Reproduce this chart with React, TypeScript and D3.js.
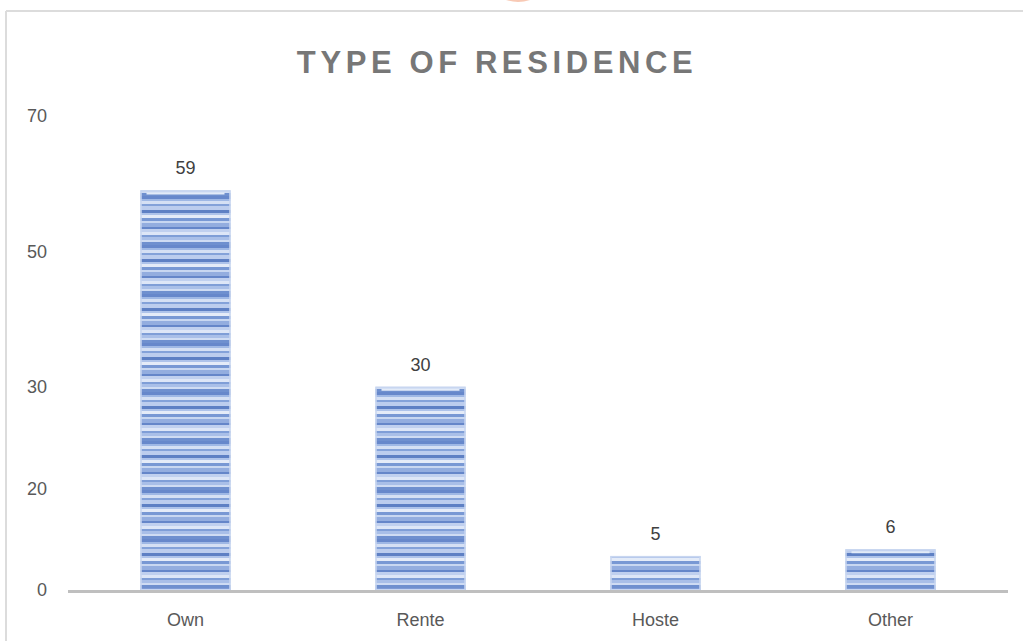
import React from "react";
import * as d3 from "d3";

const title = "TYPE OF RESIDENCE";
const categories = ["Own", "Rente", "Hoste", "Other"];
const values = [59, 30, 5, 6];
const tickValues = [0, 15, 30, 50, 70];
const tickLabels = ["0", "20", "30", "50", "70"];
const stripeColors = [
  "#6788cb", "#9fb8e5", "#d5e0f4", "#84a2d9", "#bccdee", "#5e80c4", "#aec3ea",
  "#e4ebf8", "#7898d4", "#c8d7f1", "#93addf", "#6586c9", "#c0d0ef", "#dde6f7",
  "#7f9ed7", "#a9bfe8", "#cfdcf3", "#6f90cf",
];
const stripeHeights = [3, 2, 3, 2, 4, 3, 2, 3, 3, 2, 4, 2, 3, 3, 2, 3, 2, 3];

const W = 1023;
const H = 641;

export default function App() {
  const x = d3.scaleBand<string>().domain(categories).range([68, 1008]).paddingInner(0.617).paddingOuter(0.3085);
  const y = d3.scaleLinear().domain([0, 70]).range([590, 116]);
  const font = "'Liberation Sans', Arial, sans-serif";
  const offsets = stripeHeights.reduce<number[]>((acc, h, i) => { acc.push(i === 0 ? 0 : acc[i - 1] + stripeHeights[i - 1]); return acc; }, []);
  const patH = d3.sum(stripeHeights);
  return (
    <svg width={W} height={H} style={{ position: "absolute", left: 0, top: 0, background: "#fff" }}>
      <defs>
        <pattern id="stripes" patternUnits="userSpaceOnUse" width={10} height={patH}>
          {stripeColors.map((c, i) => (
            <rect key={i} x={0} y={offsets[i]} width={10} height={stripeHeights[i]} fill={c} />
          ))}
        </pattern>
      </defs>
      <rect x={0} y={0} width={W} height={H} fill="#fff" />
      <line x1={6} x2={W} y1={11} y2={11} stroke="#dcdcdc" strokeWidth={2} />
      <line x1={6} x2={6} y1={11} y2={H} stroke="#dcdcdc" strokeWidth={2} />
      <path d="M506,0 Q518,4 530,0 Z" fill="#f4a582" opacity={0.6} />
      <text x={497} y={73} textAnchor="middle" fontFamily={font} fontWeight="bold" fontSize={31}
        letterSpacing={4.6} fill="#777777">{title}</text>
      {tickValues.map((v, i) => (
        <text key={v} x={47} y={y(v)} dy="0.35em" textAnchor="end" fontFamily={font} fontSize={18} fill="#595959">
          {tickLabels[i]}
        </text>
      ))}
      {categories.map((c, i) => {
        const bx = x(c)!;
        const bw = x.bandwidth();
        const top = y(values[i]);
        return (
          <g key={c}>
            <rect x={bx} y={top} width={bw} height={y(0) - top} fill="url(#stripes)" />
            <rect x={bx + 0.5} y={top + 0.5} width={bw - 1} height={y(0) - top - 1} fill="none" stroke="#c8d6f0" strokeWidth={1.5} />
            <line x1={bx + 6} x2={bx + bw - 6} y1={top + 3} y2={top + 3} stroke="#e3ebf8" strokeWidth={2} />
            <text x={bx + bw / 2} y={top - 16} textAnchor="middle" fontFamily={font} fontSize={18} fill="#404040">
              {values[i]}
            </text>
            <text x={bx + bw / 2} y={626} textAnchor="middle" fontFamily={font} fontSize={18} fill="#595959">
              {c}
            </text>
          </g>
        );
      })}
      <line x1={68} x2={1008} y1={y(0) + 1.5} y2={y(0) + 1.5} stroke="#bfbfbf" strokeWidth={3} />
    </svg>
  );
}
